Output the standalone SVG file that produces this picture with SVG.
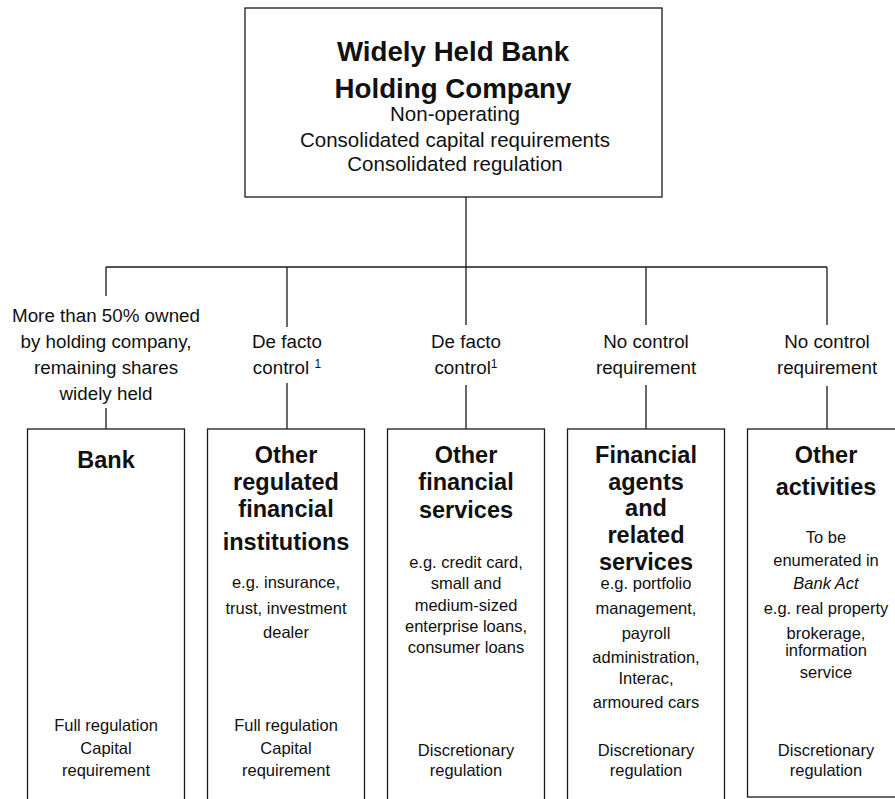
<svg xmlns="http://www.w3.org/2000/svg" width="895" height="799" viewBox="0 0 895 799">
<style>
  .box { fill: #ffffff; stroke: #1a1a1a; stroke-width: 1.3; }
  .ln { fill: none; stroke: #1a1a1a; stroke-width: 1.3; }
  text { font-family: "Liberation Sans", Arial, Helvetica, sans-serif; fill: #111; text-anchor: middle; }
  .h0 { font-size: 27.7px; font-weight: bold; }
  .sub { font-size: 20.5px; }
  .lab { font-size: 18.8px; }
  .h1 { font-size: 23.5px; font-weight: bold; }
  .bd { font-size: 16.5px; }
  .sup { font-size: 12px; }
</style>
<rect width="895" height="799" fill="#ffffff"/>

<g id="connectors">
  <path class="ln" d="M466 197 V267"/>
  <path class="ln" d="M106 267 H827"/>
  <path class="ln" d="M106 267 V296 M106 408 V429"/>
  <path class="ln" d="M287 267 V327 M287 383 V429"/>
  <path class="ln" d="M466 267 V325 M466 385 V429"/>
  <path class="ln" d="M646 267 V325 M646 385 V429"/>
  <path class="ln" d="M827 267 V325 M827 386 V429"/>
</g>

<g id="holding">
  <rect class="box" x="245" y="8" width="417" height="189"/>
  <text class="h0" x="453" y="61">Widely Held Bank</text>
  <text class="h0" x="453" y="98">Holding Company</text>
  <text class="sub" x="455" y="121">Non-operating</text>
  <text class="sub" x="455" y="147">Consolidated capital requirements</text>
  <text class="sub" x="455" y="171">Consolidated regulation</text>
</g>

<g id="label1">
  <text class="lab" x="106" y="322">More than 50% owned</text>
  <text class="lab" x="106" y="348">by holding company,</text>
  <text class="lab" x="106" y="374">remaining shares</text>
  <text class="lab" x="106" y="400">widely held</text>
</g>
<g id="label2">
  <text class="lab" x="287" y="348">De facto</text>
  <text class="lab" x="287" y="374">control <tspan class="sup" dy="-6">1</tspan></text>
</g>
<g id="label3">
  <text class="lab" x="466" y="348">De facto</text>
  <text class="lab" x="466" y="374">control<tspan class="sup" dy="-6">1</tspan></text>
</g>
<g id="label4">
  <text class="lab" x="646" y="348">No control</text>
  <text class="lab" x="646" y="374">requirement</text>
</g>
<g id="label5">
  <text class="lab" x="827" y="348">No control</text>
  <text class="lab" x="827" y="374">requirement</text>
</g>

<g id="bank">
  <rect class="box" x="27.5" y="429" width="157" height="390"/>
  <text class="h1" x="106" y="468">Bank</text>
  <text class="bd" x="106" y="731">Full regulation</text>
  <text class="bd" x="106" y="754">Capital</text>
  <text class="bd" x="106" y="776">requirement</text>
</g>

<g id="regulated">
  <rect class="box" x="207.5" y="429" width="157" height="390"/>
  <text class="h1" x="286" y="463">Other</text>
  <text class="h1" x="286" y="490">regulated</text>
  <text class="h1" x="286" y="517">financial</text>
  <text class="h1" x="286" y="550">institutions</text>
  <text class="bd" x="286" y="588">e.g. insurance,</text>
  <text class="bd" x="286" y="614">trust, investment</text>
  <text class="bd" x="286" y="638">dealer</text>
  <text class="bd" x="286" y="731">Full regulation</text>
  <text class="bd" x="286" y="754">Capital</text>
  <text class="bd" x="286" y="776">requirement</text>
</g>

<g id="finservices">
  <rect class="box" x="387.5" y="429" width="157" height="390"/>
  <text class="h1" x="466" y="463">Other</text>
  <text class="h1" x="466" y="490">financial</text>
  <text class="h1" x="466" y="518">services</text>
  <text class="bd" x="466" y="568">e.g. credit card,</text>
  <text class="bd" x="466" y="589">small and</text>
  <text class="bd" x="466" y="611">medium-sized</text>
  <text class="bd" x="466" y="632">enterprise loans,</text>
  <text class="bd" x="466" y="653">consumer loans</text>
  <text class="bd" x="466" y="756">Discretionary</text>
  <text class="bd" x="466" y="776">regulation</text>
</g>

<g id="agents">
  <rect class="box" x="567.5" y="429" width="157" height="390"/>
  <text class="h1" x="646" y="463">Financial</text>
  <text class="h1" x="646" y="490">agents</text>
  <text class="h1" x="646" y="516">and</text>
  <text class="h1" x="646" y="543">related</text>
  <text class="h1" x="646" y="570">services</text>
  <text class="bd" x="646" y="589">e.g. portfolio</text>
  <text class="bd" x="646" y="614">management,</text>
  <text class="bd" x="646" y="639">payroll</text>
  <text class="bd" x="646" y="663">administration,</text>
  <text class="bd" x="646" y="684">Interac,</text>
  <text class="bd" x="646" y="708">armoured cars</text>
  <text class="bd" x="646" y="756">Discretionary</text>
  <text class="bd" x="646" y="776">regulation</text>
</g>

<g id="other">
  <rect class="box" x="747.5" y="429" width="157" height="368"/>
  <text class="h1" x="826" y="463">Other</text>
  <text class="h1" x="826" y="495">activities</text>
  <text class="bd" x="826" y="543">To be</text>
  <text class="bd" x="826" y="566">enumerated in</text>
  <text class="bd" x="826" y="589" font-style="italic">Bank Act</text>
  <text class="bd" x="826" y="614">e.g. real property</text>
  <text class="bd" x="826" y="639">brokerage,</text>
  <text class="bd" x="826" y="656">information</text>
  <text class="bd" x="826" y="678">service</text>
  <text class="bd" x="826" y="756">Discretionary</text>
  <text class="bd" x="826" y="776">regulation</text>
</g>
</svg>
